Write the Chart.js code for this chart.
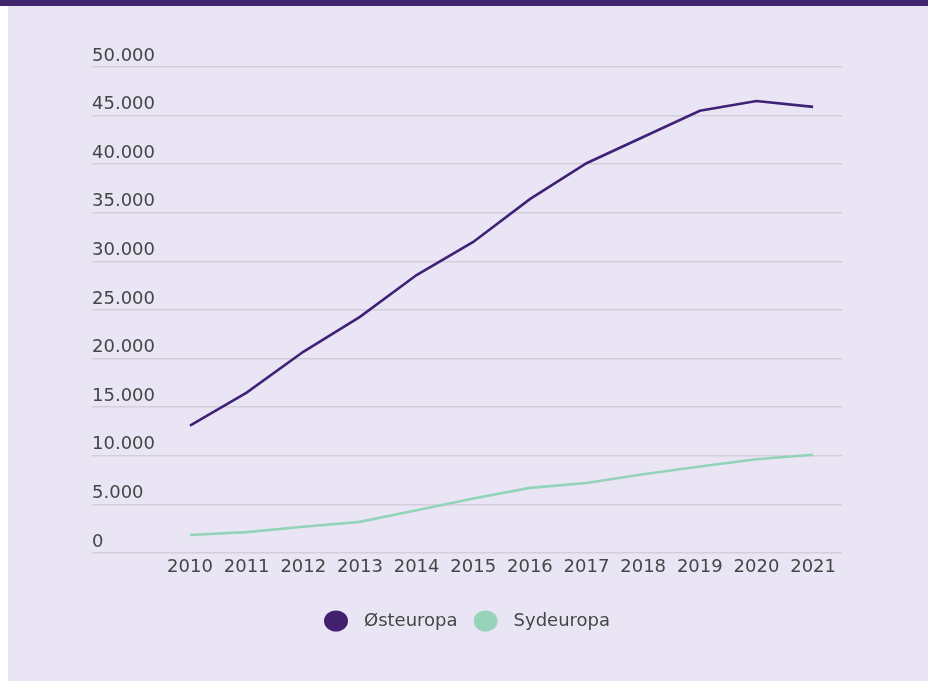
<!DOCTYPE html>
<html>
<head>
<meta charset="utf-8">
<script src="https://cdn.jsdelivr.net/npm/chart.js@4"></script>
<style>
  html, body { margin: 0; padding: 0; background: #ffffff; width: 928px; height: 681px; overflow: hidden; }
  #bar { position: absolute; left: 0; top: 0; width: 928px; height: 6px; background: #42256f; z-index: 2; }
  #panel { position: absolute; left: 8px; top: 0; width: 920px; height: 681px; background: #eae5f5; }
  canvas { display: block; }
</style>
</head>
<body>
<div id="bar"></div>
<div id="panel"><canvas id="c" width="920" height="681"></canvas></div>
<script>
// ---- data ----
const years = [2010, 2011, 2012, 2013, 2014, 2015, 2016, 2017, 2018, 2019, 2020, 2021];
const osteuropa = [13100, 16500, 20700, 24300, 28600, 32000, 36400, 40100, 42800, 45500, 46500, 45900];
const sydeuropa = [1850, 2150, 2700, 3200, 4400, 5600, 6700, 7200, 8100, 8900, 9650, 10100];
const seriesNames = ['Østeuropa', 'Sydeuropa'];
const yTickValues = [0, 5000, 10000, 15000, 20000, 25000, 30000, 35000, 40000, 45000, 50000];

const colors = { ost: '#3f2176', syd: '#93d3b8', ostDot: '#41206f', sydDot: '#96d3b9' };

function legendDot(color) {
  const c = document.createElement('canvas');
  c.width = 31; c.height = 26;
  const g = c.getContext('2d');
  g.fillStyle = color;
  g.beginPath();
  g.ellipse(12, 13, 12, 10.5, 0, 0, Math.PI * 2);
  g.fill();
  return c;
}

const fmt = v => String(v).replace(/\B(?=(\d{3})+(?!\d))/g, '.');

Chart.defaults.font.family = "'DejaVu Sans', sans-serif";
Chart.defaults.font.size = 18;
Chart.defaults.color = '#454545';

new Chart(document.getElementById('c'), {
  type: 'line',
  data: {
    datasets: [
      {
        label: seriesNames[0],
        data: years.map((y, i) => ({ x: y, y: osteuropa[i] })),
        borderColor: colors.ost,
        backgroundColor: colors.ostDot,
        borderWidth: 2.6,
        pointRadius: 0,
        pointStyle: legendDot(colors.ostDot),
        tension: 0
      },
      {
        label: seriesNames[1],
        data: years.map((y, i) => ({ x: y, y: sydeuropa[i] })),
        borderColor: colors.syd,
        backgroundColor: colors.sydDot,
        borderWidth: 2.6,
        pointRadius: 0,
        pointStyle: legendDot(colors.sydDot),
        tension: 0
      }
    ]
  },
  options: {
    responsive: false,
    animation: false,
    devicePixelRatio: 1,
    layout: { padding: { left: 84, right: 86, top: 67, bottom: 41 } },
    plugins: {
      legend: {
        position: 'bottom',
        labels: {
          usePointStyle: true,
          pointStyleWidth: 31,
          boxHeight: 18,
          padding: 16,
          color: '#454545',
          font: { size: 18 }
        }
      },
      tooltip: { enabled: false }
    },
    scales: {
      x: {
        type: 'linear',
        min: 2008.27,
        max: 2021.51,
        afterBuildTicks: s => { s.ticks = years.map(v => ({ value: v })); },
        afterFit: s => { s.height += 13.4; },
        grid: { display: false, drawTicks: false },
        border: { display: false },
        ticks: {
          autoSkip: false,
          maxRotation: 0,
          padding: 4,
          callback: v => String(v)
        }
      },
      y: {
        min: 0,
        max: 50000,
        afterBuildTicks: s => { s.ticks = yTickValues.map(v => ({ value: v })); },
        grid: { color: '#d3cedc', lineWidth: 1.6, drawTicks: false },
        border: { display: false },
        ticks: {
          mirror: true,
          padding: 0,
          labelOffset: -11,
          callback: v => fmt(v)
        }
      }
    }
  }
});
</script>
</body>
</html>
